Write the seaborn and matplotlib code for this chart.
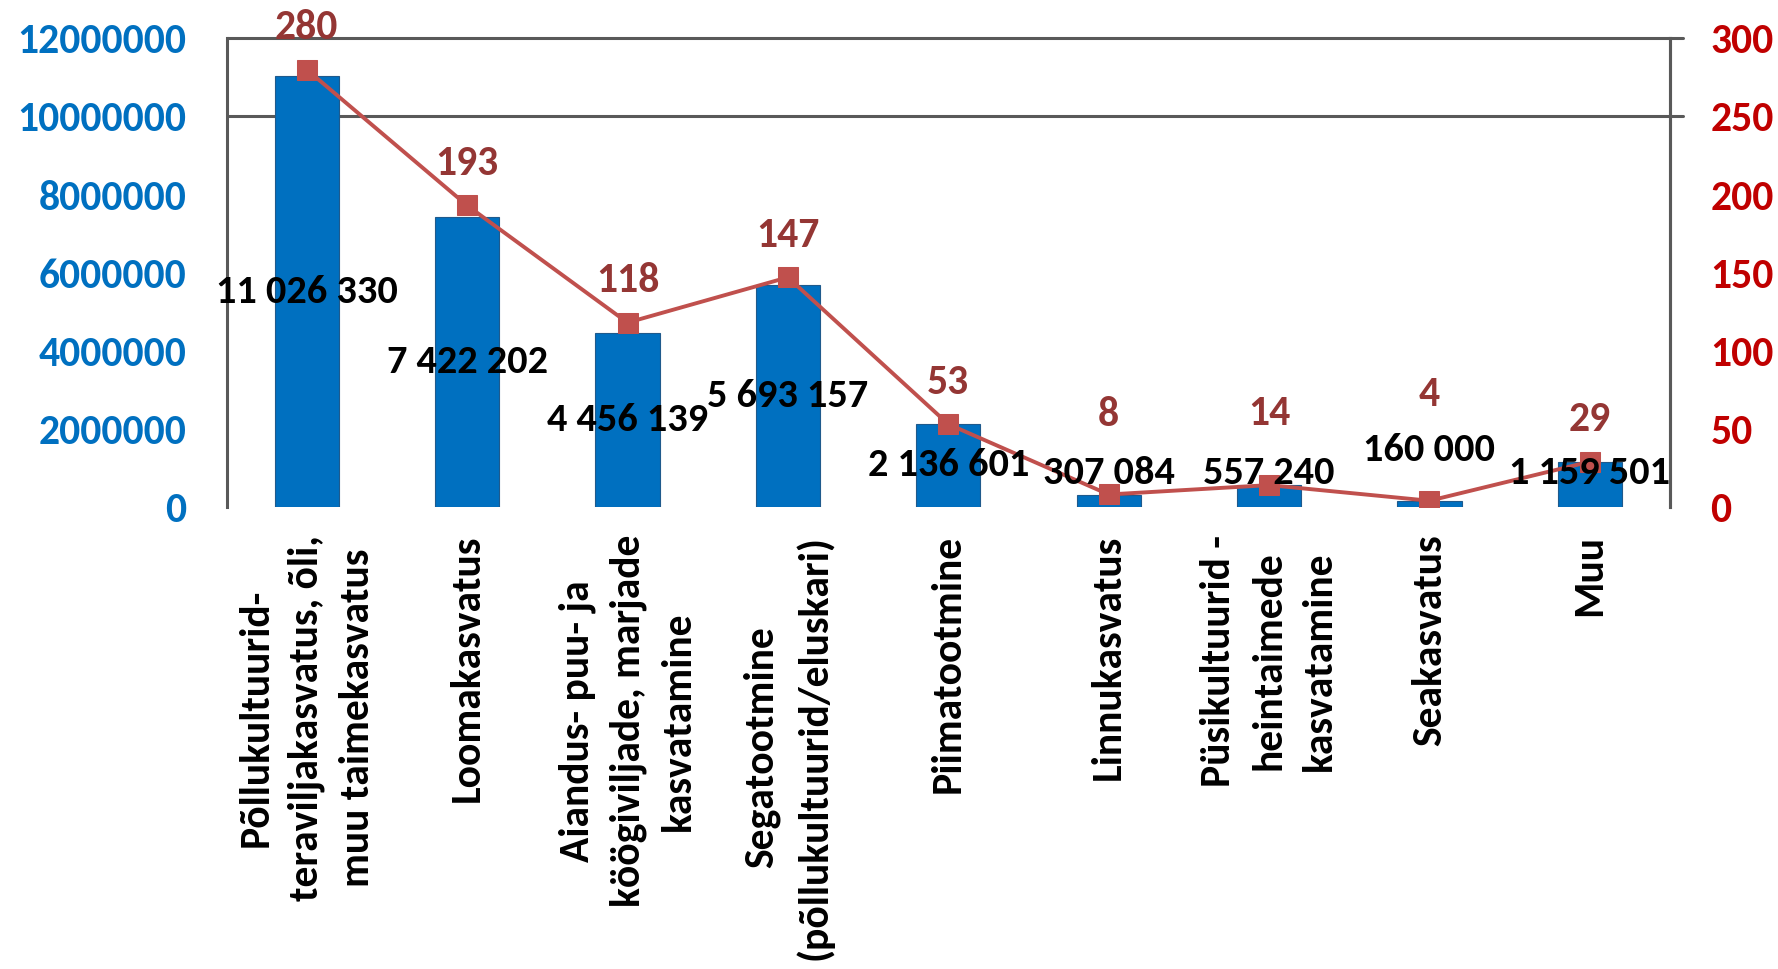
import numpy as np
import pandas as pd
import matplotlib
matplotlib.use("Agg")
import matplotlib.pyplot as plt
import seaborn as sns

# ---- data ----
categories = [
    "Põllukultuurid-\nteraviljakasvatus, õli,\nmuu taimekasvatus",
    "Loomakasvatus",
    "Aiandus- puu- ja\nköögiviljade, marjade\nkasvatamine",
    "Segatootmine\n(põllukultuurid/eluskari)",
    "Piimatootmine",
    "Linnukasvatus",
    "Püsikultuurid -\nheintaimede\nkasvatamine",
    "Seakasvatus",
    "Muu",
]
amounts = [11026330, 7422202, 4456139, 5693157, 2136601, 307084, 557240, 160000, 1159501]
counts = [280, 193, 118, 147, 53, 8, 14, 4, 29]
left_ticks = [0, 2000000, 4000000, 6000000, 8000000, 10000000, 12000000]
right_ticks = [0, 50, 100, 150, 200, 250, 300]

# ---- style ----
BLUE = "#0070C0"
RED_TICK = "#C00000"
LINE_RED = "#C0504D"
LABEL_RED = "#943634"
GRAY = "#595959"
FS = 30

sns.set_theme(style="white")
plt.rcParams["font.family"] = ["Carlito", "DejaVu Sans"]
plt.rcParams["font.weight"] = "bold"

df = pd.DataFrame({"cat": categories, "amount": amounts, "count": counts,
                   "idx": np.arange(len(categories))})

fig = plt.figure(figsize=(17.78, 9.69), dpi=100)
ax = fig.add_axes([0.1274, 0.4768, 0.8119, 0.4837])

sns.barplot(data=df, x="cat", y="amount", order=categories, color=BLUE,
            saturation=1, width=0.4, edgecolor="#1F5A8C", linewidth=0.8, ax=ax)
ax.set_xlim(-0.5, len(categories) - 0.5)
ax.set_ylim(0, 12000000)
ax.set_yticks(left_ticks)
ax.set_yticklabels([str(t) for t in left_ticks], color=BLUE, fontsize=FS, fontweight="bold")
ax.set_xlabel("")
ax.set_ylabel("")
ax.tick_params(axis="both", length=0)
ax.tick_params(axis="y", pad=29)
ax.tick_params(axis="x", pad=20)
ax.set_xticks(range(len(categories)))
ax.set_xticklabels(categories, rotation=90, fontsize=FS, fontweight="bold",
                   color="black", va="top", ha="center", multialignment="center",
                   linespacing=1.45)

for side in ["top", "bottom"]:
    ax.spines[side].set_visible(False)
for side in ["left", "right"]:
    ax.spines[side].set_color(GRAY)
    ax.spines[side].set_linewidth(2.2)

# gridlines at 10M and 12M, slightly overhanging the right axis
for yv in [10000000, 12000000]:
    ax.axhline(yv, xmin=0, xmax=1.009, color=GRAY, lw=2.2, clip_on=False, zorder=0.5)

ax2 = ax.twinx()
sns.lineplot(data=df, x="idx", y="count", color=LINE_RED, lw=2.8, marker="s",
             markersize=15, markeredgecolor=LINE_RED, markerfacecolor=LINE_RED,
             ax=ax2, zorder=3)
ax2.set_ylim(0, 300)
ax2.set_yticks(right_ticks)
ax2.set_yticklabels([str(t) for t in right_ticks], color=RED_TICK, fontsize=FS,
                    fontweight="bold", ha="left")
ax2.tick_params(axis="y", length=0, pad=29)
ax2.set_ylabel("")
ax2.set_xlabel("")
for side in ["top", "bottom", "left"]:
    ax2.spines[side].set_visible(False)
ax2.spines["right"].set_color(GRAY)
ax2.spines["right"].set_linewidth(2.2)
ax2.set_xlim(-0.5, len(categories) - 0.5)

# bar value labels (centered; small bars lifted for legibility)
min_label_y = 870000
label_lift = {7: 1460000}
for i, v in enumerate(amounts):
    y = label_lift.get(i, max(v / 2, min_label_y))
    txt = f"{v:,}".replace(",", " ")
    ax2.text(i, y * 300 / 12000000, txt, ha="center", va="center",
             fontsize=FS - 1, fontweight="bold", color="black", zorder=5)

# line value labels
line_off = {5: 80, 6: 72, 7: 106}
for i, c in enumerate(counts):
    ax2.annotate(str(c), (i, c), xytext=(0, line_off.get(i, 42)),
                 textcoords="offset pixels", ha="center", va="center",
                 fontsize=FS, fontweight="bold", color=LABEL_RED, zorder=5,
                 annotation_clip=False)

fig.savefig("out.png", dpi=100)
